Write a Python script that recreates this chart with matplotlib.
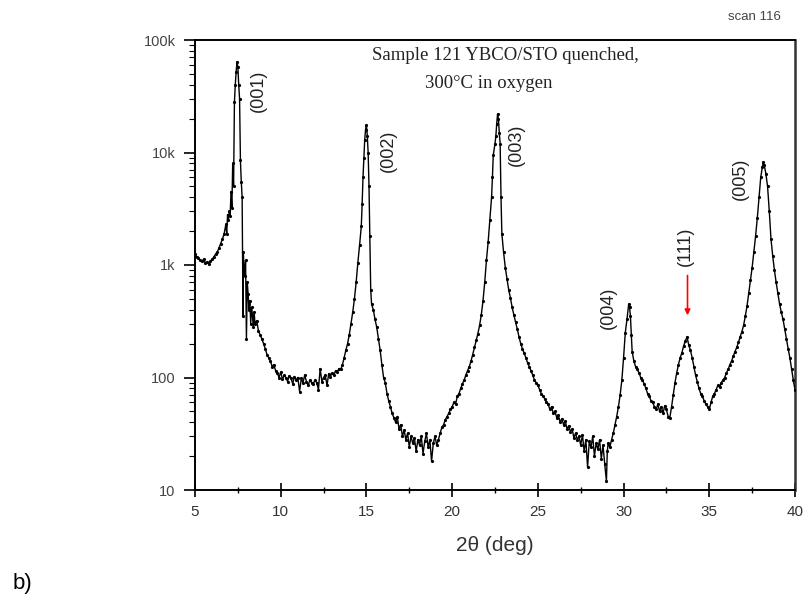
import matplotlib
matplotlib.use("Agg")
import matplotlib.pyplot as plt
from matplotlib.ticker import FixedLocator, LogLocator, NullFormatter, MultipleLocator

# ---------------- data ----------------
two_theta = [
    5.0, 5.1, 5.2, 5.3, 5.4, 5.5, 5.6, 5.7, 5.8, 5.9, 6.0, 6.1, 6.2, 6.3, 6.4, 6.5, 6.6, 6.7,
    6.8, 6.85, 6.9, 6.95, 7.0, 7.05, 7.1, 7.15, 7.2, 7.25, 7.3, 7.35, 7.4, 7.45, 7.5, 7.55,
    7.6, 7.65, 7.7, 7.75, 7.8, 7.82, 7.85, 7.9, 7.95, 8.0, 8.05, 8.1, 8.15, 8.2, 8.25, 8.3,
    8.35, 8.4, 8.45, 8.5, 8.6, 8.7, 8.8, 8.9, 9.0, 9.1, 9.2, 9.3, 9.4, 9.5, 9.6, 9.7, 9.8,
    9.9, 10.0, 10.1, 10.2, 10.3, 10.4, 10.5, 10.6, 10.7, 10.8, 10.9, 11.0, 11.1, 11.2, 11.3,
    11.4, 11.5, 11.6, 11.7, 11.8, 11.9, 12.0, 12.1, 12.2, 12.3, 12.4, 12.5, 12.6, 12.7, 12.8,
    12.9, 13.0, 13.1, 13.2, 13.3, 13.4, 13.5, 13.6, 13.7, 13.8, 13.9, 14.0, 14.1, 14.2, 14.3,
    14.4, 14.5, 14.6, 14.7, 14.75, 14.8, 14.85, 14.9, 14.95, 15.0, 15.05, 15.1, 15.15, 15.2,
    15.25, 15.3, 15.4, 15.5, 15.6, 15.7, 15.8, 15.9, 16.0, 16.1, 16.2, 16.3, 16.4, 16.5, 16.6,
    16.7, 16.8, 16.9, 17.0, 17.1, 17.2, 17.3, 17.4, 17.5, 17.6, 17.7, 17.8, 17.9, 18.0, 18.1,
    18.2, 18.3, 18.4, 18.5, 18.6, 18.7, 18.8, 18.9, 19.0, 19.1, 19.2, 19.3, 19.4, 19.5, 19.6,
    19.7, 19.8, 19.9, 20.0, 20.1, 20.2, 20.3, 20.4, 20.5, 20.6, 20.7, 20.8, 20.9, 21.0, 21.1,
    21.2, 21.3, 21.4, 21.5, 21.6, 21.7, 21.8, 21.9, 22.0, 22.1, 22.2, 22.3, 22.35, 22.4, 22.5,
    22.55, 22.6, 22.65, 22.7, 22.75, 22.8, 22.85, 22.9, 23.0, 23.1, 23.2, 23.3, 23.4, 23.5,
    23.6, 23.7, 23.8, 23.9, 24.0, 24.1, 24.2, 24.3, 24.4, 24.5, 24.6, 24.7, 24.8, 24.9, 25.0,
    25.1, 25.2, 25.3, 25.4, 25.5, 25.6, 25.7, 25.8, 25.9, 26.0, 26.1, 26.2, 26.3, 26.4, 26.5,
    26.6, 26.7, 26.8, 26.9, 27.0, 27.1, 27.2, 27.3, 27.4, 27.5, 27.6, 27.7, 27.8, 27.9, 28.0,
    28.1, 28.2, 28.3, 28.4, 28.5, 28.6, 28.7, 28.8, 28.9, 29.0, 29.05, 29.1, 29.2, 29.3, 29.4,
    29.5, 29.6, 29.7, 29.8, 29.9, 30.0, 30.1, 30.2, 30.3, 30.35, 30.4, 30.45, 30.5, 30.6, 30.7,
    30.8, 30.9, 31.0, 31.1, 31.2, 31.3, 31.4, 31.5, 31.6, 31.7, 31.8, 31.9, 32.0, 32.1, 32.2,
    32.3, 32.4, 32.5, 32.6, 32.7, 32.8, 32.9, 33.0, 33.1, 33.2, 33.3, 33.4, 33.5, 33.6, 33.7,
    33.8, 33.9, 34.0, 34.1, 34.2, 34.3, 34.4, 34.5, 34.6, 34.7, 34.8, 34.9, 35.0, 35.1, 35.2,
    35.3, 35.4, 35.5, 35.6, 35.7, 35.8, 35.9, 36.0, 36.1, 36.2, 36.3, 36.4, 36.5, 36.6, 36.7,
    36.8, 36.9, 37.0, 37.1, 37.2, 37.3, 37.4, 37.5, 37.6, 37.7, 37.8, 37.9, 38.0, 38.1, 38.15,
    38.2, 38.3, 38.4, 38.5, 38.6, 38.7, 38.8, 38.9, 39.0, 39.1, 39.2, 39.3, 39.4, 39.5, 39.6,
    39.7, 39.8, 39.9, 40.0,
]
counts = [
    1250, 1180, 1150, 1100, 1080, 1120, 1050, 1060, 1030, 1080, 1120, 1180, 1250, 1300, 1420, 1550, 1700, 1900,
    2300, 1900, 2800, 2500, 3000, 2700, 4500, 3200, 8000, 5000, 28000, 40000, 52000, 64000, 58000, 40000,
    30000, 8500, 5500, 4000, 350, 1300, 1000, 800, 1100, 220, 700, 550, 400, 480, 300, 420,
    360, 280, 380, 300, 320, 260, 240, 220, 200, 180, 160, 150, 140, 125, 130, 115, 110,
    100, 112, 96, 105, 100, 92, 104, 98, 88, 102, 95, 100, 75, 98, 90,
    105, 92, 85, 95, 90, 88, 95, 90, 78, 120, 92, 100, 105, 85, 108,
    102, 110, 105, 115, 112, 120, 118, 130, 150, 175, 200, 240, 300, 380, 500,
    700, 1050, 1500, 2200, 3500, 6000, 9000, 13000, 16000, 17500, 14000, 10000, 5000, 1800,
    600, 450, 400, 330, 280, 220, 175, 130, 100, 90, 72, 62, 55, 48, 44,
    40, 45, 35, 38, 30, 34, 28, 32, 24, 30, 26, 29, 22, 28, 25,
    30, 21, 27, 32, 24, 28, 18, 26, 30, 25, 28, 32, 36, 38, 42,
    45, 48, 52, 55, 60, 58, 68, 72, 80, 88, 95, 105, 115, 125, 140,
    160, 185, 215, 245, 290, 360, 480, 700, 1100, 1600, 2500, 4000, 6000, 9500, 12000,
    14000, 18000, 22000, 20000, 15000, 12000, 4000, 1900, 1300, 950, 750, 600, 510, 420,
    360, 310, 270, 230, 200, 180, 165, 150, 135, 125, 115, 105, 95, 90, 85,
    78, 72, 68, 65, 60, 58, 52, 55, 48, 50, 44, 46, 40, 43, 38,
    41, 35, 37, 33, 35, 29, 32, 28, 30, 25, 31, 22, 28, 16, 27,
    24, 30, 20, 26, 23, 28, 19, 25, 17, 12, 22, 26, 24, 28, 32,
    38, 45, 55, 70, 95, 150, 250, 330, 450, 420, 350, 240, 170, 140, 125,
    118, 110, 100, 95, 88, 80, 72, 68, 62, 60, 55, 52, 58, 50, 55,
    48, 56, 52, 45, 44, 55, 70, 90, 110, 130, 150, 165, 190, 210, 230,
    195, 175, 150, 125, 105, 92, 80, 72, 68, 62, 58, 55, 52, 60, 68,
    72, 78, 85, 82, 90, 95, 100, 110, 118, 130, 140, 155, 170, 185, 205,
    230, 255, 290, 350, 430, 560, 740, 950, 1300, 1800, 2600, 4000, 6000, 7500, 8200,
    7800, 6500, 5000, 3000, 1700, 1200, 900, 700, 560, 450, 380, 330, 270, 220, 180,
    150, 120, 95, 78,
]

peak_labels = ["(001)", "(002)", "(003)", "(004)", "(111)", "(005)"]
label_x = [8.67, 16.26, 23.77, 29.1, 33.6, 36.8]
label_y = [35000, 10400, 11700, 420, 1470, 5850]

arrow_x = 33.73
arrow_from = 807
arrow_to = 357

xticks = [5, 10, 15, 20, 25, 30, 35, 40]
yticks = [10, 100, 1000, 10000, 100000]
ytick_labels = ["10", "100", "1k", "10k", "100k"]

title_line1 = "Sample 121 YBCO/STO quenched,"
title_line2 = "300°C in oxygen"

# ---------------- figure ----------------
fig = plt.figure(figsize=(8.08, 5.99), dpi=100)
ax = fig.add_axes([195 / 808, 1 - 490 / 599, 600 / 808, 450 / 599])

ax.plot(two_theta, counts, color="black", lw=1.0, marker="o", ms=2.3,
        markeredgewidth=0, zorder=3)

ax.set_yscale("log")
ax.set_xlim(5, 40)
ax.set_ylim(10, 100000)

ax.xaxis.set_major_locator(FixedLocator(xticks))
ax.xaxis.set_minor_locator(MultipleLocator(2.5))
ax.yaxis.set_major_locator(FixedLocator(yticks))
ax.set_yticklabels(ytick_labels)
ax.yaxis.set_minor_locator(LogLocator(base=10, subs=range(2, 10)))
ax.yaxis.set_minor_formatter(NullFormatter())
ax.set_xticklabels([str(v) for v in xticks])

ax.tick_params(axis="x", which="major", direction="inout", length=10, width=1.2,
               pad=6, labelsize=11, labelcolor="#333333")
ax.tick_params(axis="x", which="minor", direction="inout", length=5, width=1)
ax.tick_params(axis="y", which="major", direction="out", length=8, width=1.2,
               pad=6, labelsize=10.5, labelcolor="#444444")
ax.tick_params(axis="y", which="minor", direction="out", length=4, width=0.8)
for lab in ax.get_xticklabels() + ax.get_yticklabels():
    lab.set_family(["Liberation Sans", "DejaVu Sans"])

for side in ["left", "bottom", "top"]:
    ax.spines[side].set_linewidth(1.4)
ax.spines["right"].set_linewidth(1.8)
ax.spines["right"].set_color("#333333")

ax.set_xlabel("2θ (deg)", fontsize=15, family=["Liberation Sans", "DejaVu Sans"],
              color="#333333", labelpad=12)

for lab, lx, ly in zip(peak_labels, label_x, label_y):
    ax.text(lx, ly, lab, rotation=90, ha="center", va="center", fontsize=13,
            family=["Liberation Sans", "DejaVu Sans"], color="#222222")

ax.annotate("", xy=(arrow_x, arrow_to), xytext=(arrow_x, arrow_from),
            arrowprops=dict(arrowstyle="-|>", color="red", lw=1.2,
                            mutation_scale=8, shrinkA=0, shrinkB=0))

fig.text(505 / 808, 1 - 55 / 599, title_line1, ha="center", va="center",
         fontsize=13.5, family="Liberation Serif", color="#222222")
fig.text(489 / 808, 1 - 83 / 599, title_line2, ha="center", va="center",
         fontsize=13.5, family="Liberation Serif", color="#222222")

fig.text(754 / 808, 1 - 17 / 599, "scan 116", ha="center", va="center",
         fontsize=9.5, family="Liberation Sans", color="#444444")
fig.text(13 / 808, 1 - 583 / 599, "b)", ha="left", va="center",
         fontsize=16, family=["Liberation Sans", "DejaVu Sans"], color="black")

fig.savefig("out.png", dpi=100)
